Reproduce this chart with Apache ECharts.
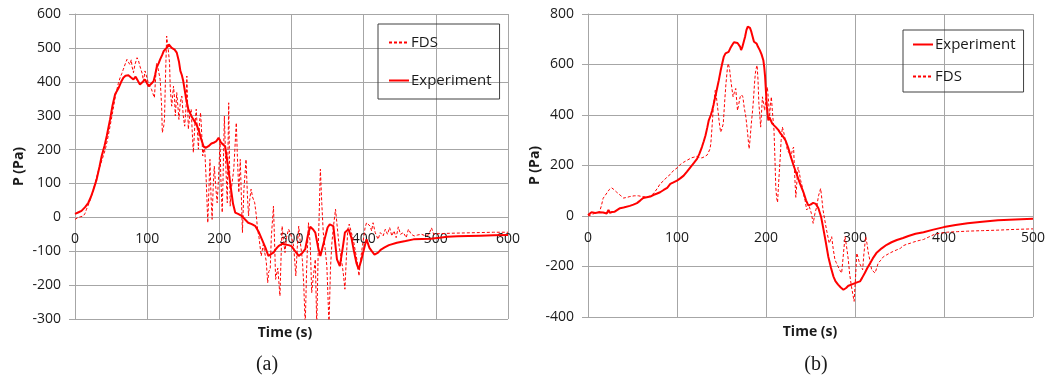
<!DOCTYPE html>
<html>
<head>
<meta charset="utf-8">
<script src="https://cdn.jsdelivr.net/npm/echarts@6/dist/echarts.min.js"></script>
<style>
  html, body { margin: 0; padding: 0; background: #fff; }
  #chart { width: 1053px; height: 377px; }
</style>
</head>
<body>
<div id="chart"></div>
<script>
// (a) time [s], pressure [Pa]
var aExperiment = [[0,10],[5,15],[9,19],[14,30],[18.5,43],[22,60],[25,78],[30,112],[34,150],[37,181],[41,212],[44,240],[48.6,289],[52,330],[55.6,363],[60,380],[64,400],[67,412],[70,418],[74,419],[78,412],[81,407],[84,415],[86,412],[90,392],[94,400],[97,407],[100,395],[102,387],[106,395],[109,402],[111,420],[113,441],[116,455],[118,466],[121,480],[123,491],[127,500],[130,510],[132,505],[134,500],[138,495],[141,486],[144,460],[146,432],[148,420],[150,402],[154,350],[157,319],[161,300],[164,289],[168,275],[171,260],[175,230],[178,210],[181,205],[185,210],[189,218],[192,220],[196,225],[199,235],[202,222],[205,215],[208,210],[212,150],[215,102],[219,40],[222,14],[226,10],[231,4],[235,-5],[240,-16],[245,-20],[250,-26],[255,-45],[259,-65],[264,-90],[268,-114],[272,-108],[275,-104],[279,-92],[282,-85],[287,-78],[291,-80],[296,-82],[300,-85],[305,-100],[310,-114],[315,-105],[319,-94],[323,-50],[326,-28],[330,-36],[333,-45],[337,-90],[340,-114],[344,-80],[347,-55],[350,-30],[353,-21],[358,-26],[363,-124],[367,-144],[371,-90],[374,-45],[379,-35],[383,-60],[386,-94],[390,-135],[393,-153],[397,-124],[402,-80],[404,-65],[408,-90],[411,-99],[415,-110],[420,-104],[424,-95],[429,-89],[435,-82],[446,-75],[458,-70],[469,-65],[481,-64],[493,-63],[505,-60],[516,-57],[530,-56],[545,-55],[562,-54],[580,-53],[600,-52]];
var aFds = [[0,-6],[4.6,0],[8,2],[11.6,4],[14,12],[16,24],[20,45],[24,70],[28,102],[32,135],[36,160],[42,200],[46,240],[50,285],[53,320],[56,358],[60,395],[62.5,412],[65,425],[67,437],[70,455],[72,466],[74,458],[76,451],[78,465],[79,445],[81,427],[83,450],[86,471],[88,462],[90,446],[93,425],[95,402],[97,432],[100,410],[102,392],[104,385],[106,378],[108,365],[110,353],[112,420],[113,456],[115,440],[118,407],[120,330],[121,250],[123,270],[124,289],[125,380],[126,460],[127,535],[128,540],[129,500],[131,456],[132,380],[134,328],[136.5,387],[138,350],[139,299],[141,368],[142.5,330],[144,289],[146,340],[148,358],[150,300],[152,269],[154,330],[155,417],[157,260],[159,300],[161,319],[162.5,250],[164,191],[166,270],[168,319],[170,240],[171,201],[172.5,280],[174,309],[176,230],[177,181],[179,210],[180,191],[182,100],[184,-16],[185.5,80],[187,171],[188.5,60],[190,-6],[191.5,90],[193,151],[195,90],[197,43],[198.5,100],[200,171],[201,230],[202,120],[204,14],[205,100],[207,299],[209,150],[211,43],[212,200],[213,338],[214,180],[215,33],[217,90],[220,142],[222,220],[223.5,279],[225,180],[227,73],[229,171],[232,-45],[234,80],[237,171],[239,60],[240.5,4],[242,50],[244,83],[246,60],[249,43],[251,10],[253,-35],[255,-60],[258,-114],[261,-80],[263.6,-85],[265,-130],[267,-193],[268.5,-160],[270.5,-153],[272,-60],[275,33],[276.5,-70],[278,-183],[281,-150],[284,-232],[285.5,-120],[287,-26],[289,-70],[291,-104],[293,-60],[296,-35],[299,-50],[303,-85],[306,-173],[308,-90],[310,-26],[312,-70],[315,-124],[317,-200],[319,-320],[321,-150],[323.5,-16],[326,-80],[328,-222],[330,-180],[333,-124],[335,-320],[337,-100],[339,60],[340,142],[342,40],[344,-45],[347,-100],[349,-144],[352,-320],[354,-150],[356,-75],[358,-30],[361,24],[363,-20],[366,-85],[368,-110],[370.5,-144],[372,-170],[374,-212],[376,-120],[378,-35],[380,-20],[383,-45],[386,-70],[388,-94],[391,-130],[393.5,-173],[395,-140],[397,-104],[400,-60],[402,-30],[404,-16],[406,-20],[409,-26],[411,-40],[413,-16],[416,-45],[420,-65],[423,-45],[427,-55],[430,-35],[433,-50],[436,-30],[439,-55],[442,-40],[445,-60],[448,-28],[451,-50],[455,-45],[459,-60],[462,-35],[466,-50],[470,-55],[475,-52],[480,-50],[485,-54],[490,-52],[494,-31],[497,-50],[505,-48],[520,-47],[540,-46],[560,-45],[580,-44],[600,-44]];

// (b) time [s], pressure [Pa]
var bExperiment = [[0,4],[4,15],[8,12],[13,15],[17,14],[19,17],[21,10],[23,24],[24.5,13],[27,16],[30,17],[33,24],[36,31],[40,34],[47,40],[51,45],[55,51],[58.6,61],[62,71],[66,74],[70,77],[74,84],[77,88],[81,94],[85,103],[89,111],[92.5,127],[96,133],[100,140],[104,150],[107.5,160],[111,175],[115,193],[119,210],[122.5,226],[125,245],[128,273],[130,295],[132,319],[134,350],[135.7,379],[138,400],[139.5,418],[141,440],[143,472],[145,505],[147,538],[149,575],[150.8,604],[152.5,630],[154.5,644],[156,648],[158,650],[160,665],[162,677],[164,688],[166,690],[168,685],[169.5,683],[171,670],[172,657],[173.5,670],[175,690],[176.5,710],[178,736],[179.5,750],[180.5,756],[182,745],[183.5,730],[185,710],[186.5,690],[188,685],[189.5,683],[191,670],[193,657],[195,640],[197,617],[198,590],[199,551],[200,490],[201,432],[202.6,379],[204,390],[205,392],[207,366],[209,360],[211,352],[214,340],[216.5,326],[219,315],[222,299],[225,270],[228,233],[231,200],[234.5,165],[238,130],[242,95],[245,62],[247.5,42],[250,45],[253,52],[256,48],[259,30],[262,-5],[264,-42],[267,-100],[270,-161],[273,-205],[275.7,-239],[278,-258],[281,-272],[284,-283],[287,-292],[290,-285],[292.5,-276],[296,-272],[300,-266],[303,-262],[305.6,-259],[308,-245],[311,-226],[314,-205],[317,-187],[320,-168],[324,-147],[330,-128],[335.6,-114],[341,-104],[347,-95],[354,-87],[360,-79],[368,-70],[377,-64],[388,-54],[400,-44],[413,-36],[426.5,-29],[443,-23],[460.6,-17],[480,-14],[500,-11]];
var bFds = [[0,0],[4,5],[7.5,11],[10,14],[13,17],[15,40],[17,70],[19,77],[22,95],[24,105],[26.4,112],[29,105],[32,95],[34,91],[37,80],[40,71],[44,74],[47,77],[52,80],[56.6,80],[61,77],[66,75],[69,78],[72,84],[75,95],[78,110],[81,127],[85,140],[89,155],[92.5,165],[96,180],[100,190],[104,205],[107.5,213],[112,222],[116,230],[119,233],[122,236],[125,232],[128,230],[131,235],[134,242],[135.7,246],[137,265],[138,286],[139.5,360],[140.6,418],[142,470],[143,498],[144,480],[146,418],[147.5,370],[149,332],[150.5,345],[152,366],[153.5,450],[155,524],[156.5,580],[157.5,604],[159,585],[160,551],[161.5,510],[163,472],[164.5,490],[166,505],[167,460],[168,418],[169.5,445],[171,472],[172.5,480],[174,472],[175.5,430],[177.4,392],[179,340],[181,266],[182,300],[183.5,366],[185,420],[186,465],[187,520],[188,564],[189,585],[190,597],[191,540],[192,445],[193,400],[194,352],[195,410],[196,472],[197.5,440],[198.5,418],[200,470],[201.5,511],[203,450],[204,392],[205,440],[206,472],[207.5,400],[209,339],[210,230],[211,114],[212,70],[213,54],[214,120],[216,233],[217,300],[218.4,352],[220,330],[221,313],[222.5,290],[224,260],[226,250],[228,233],[229.5,260],[231,273],[232,180],[233.5,74],[235,150],[236,193],[237.5,170],[239,140],[240.5,120],[242,89],[244,60],[245.7,24],[247,30],[248.7,37],[251,10],[253,-29],[255,10],[257,37],[259,80],[261.4,109],[263,60],[264,26],[266,-15],[268,-55],[270,-90],[271,-108],[273.8,-82],[275.5,-130],[277.5,-174],[279,-185],[281,-200],[283,-215],[285,-226],[287,-150],[288.8,-82],[290.5,-120],[292.5,-174],[294,-230],[296,-279],[299,-338],[300.5,-250],[302,-147],[303.5,-165],[305,-187],[307,-200],[308.6,-213],[310,-150],[312,-82],[313.5,-110],[315,-147],[317,-180],[318.7,-213],[320.5,-220],[322.5,-226],[324,-210],[326,-187],[329,-175],[332,-161],[335,-155],[339,-147],[343,-140],[347,-134],[351,-128],[354,-118],[358,-112],[362,-108],[366,-103],[372,-97],[377,-93],[383,-83],[389,-73],[396,-68],[404,-64],[415,-62],[426.5,-60],[443,-58],[460.6,-56],[480,-53],[500,-51]];

var red = '#ff0000';
var gridGray = '#a6a6a6';
var font = '"Open Sans", "Liberation Sans", sans-serif';

// x axis sits on the P = 0 line, like the Excel originals
function xAxisOpt(idx, max, offset) {
  return {
    type: 'value', gridIndex: idx, min: 0, max: max, interval: 100,
    position: 'bottom', offset: offset,
    axisLine: { onZero: false, lineStyle: { color: gridGray } },
    axisTick: { show: false },
    axisLabel: { color: '#1a1a1a', fontSize: 14, fontFamily: font, margin: 15 },
    splitLine: { show: true, lineStyle: { color: gridGray } }
  };
}
function yAxisOpt(idx, min, max, step, gap) {
  return {
    type: 'value', gridIndex: idx, min: min, max: max, interval: step,
    name: 'P (Pa)', nameLocation: 'middle', nameRotate: 90, nameGap: gap,
    nameTextStyle: { fontWeight: 'bold', fontSize: 14, fontFamily: font, color: '#1a1a1a' },
    axisLine: { show: true, onZero: false, lineStyle: { color: gridGray } },
    axisTick: { show: true, length: 6, lineStyle: { color: gridGray } },
    axisLabel: { color: '#1a1a1a', fontSize: 14, fontFamily: font, margin: 14 },
    splitLine: { show: true, lineStyle: { color: gridGray } }
  };
}
function legendOpt(order, left, top, pad, gap) {
  return {
    data: order, orient: 'vertical', left: left, top: top,
    padding: pad, itemGap: gap, itemWidth: 20, itemHeight: 14,
    borderColor: '#404040', borderWidth: 1, selectedMode: false,
    itemStyle: { opacity: 0 },
    textStyle: { fontSize: 15, fontFamily: font, color: '#1a1a1a', padding: [0, 0, 0, -3] }
  };
}

var chart = echarts.init(document.getElementById('chart'));
chart.setOption({
  animation: false,
  grid: [
    { left: 75, top: 14, width: 433, height: 305 },
    { left: 588, top: 14, width: 445, height: 303 }
  ],
  xAxis: [xAxisOpt(0, 600, -101.7), xAxisOpt(1, 500, -101)],
  yAxis: [yAxisOpt(0, -300, 600, 100, 49), yAxisOpt(1, -400, 800, 200, 40)],
  legend: [
    legendOpt(['FDS', 'Experiment'], 378, 24, [11, 8, 11, 10], 23),
    legendOpt(['Experiment', 'FDS'], 903, 30, [7, 8, 8, 9], 17)
  ],
  series: [
    { name: 'FDS', type: 'line', xAxisIndex: 0, yAxisIndex: 0, data: aFds, symbol: 'none',
      lineStyle: { color: red, width: 1, type: [3, 2] }, itemStyle: { color: red } },
    { name: 'Experiment', type: 'line', xAxisIndex: 0, yAxisIndex: 0, data: aExperiment, symbol: 'none',
      lineStyle: { color: red, width: 2 }, itemStyle: { color: red } },
    { name: 'Experiment', type: 'line', xAxisIndex: 1, yAxisIndex: 1, data: bExperiment, symbol: 'none',
      lineStyle: { color: red, width: 2 }, itemStyle: { color: red } },
    { name: 'FDS', type: 'line', xAxisIndex: 1, yAxisIndex: 1, data: bFds, symbol: 'none',
      lineStyle: { color: red, width: 1, type: [3, 2] }, itemStyle: { color: red } }
  ],
  graphic: [
    { type: 'text', style: { text: 'Time (s)', x: 285, y: 333, align: 'center', verticalAlign: 'middle',
      font: 'bold 14px ' + font, fill: '#1a1a1a' } },
    { type: 'text', style: { text: 'Time (s)', x: 810, y: 332, align: 'center', verticalAlign: 'middle',
      font: 'bold 14px ' + font, fill: '#1a1a1a' } },
    { type: 'text', style: { text: '(a)', x: 267, y: 365, align: 'center', verticalAlign: 'middle',
      font: '20px "Liberation Serif", serif', fill: '#1a1a1a' } },
    { type: 'text', style: { text: '(b)', x: 816, y: 365, align: 'center', verticalAlign: 'middle',
      font: '20px "Liberation Serif", serif', fill: '#1a1a1a' } }
  ]
});
</script>
</body>
</html>
